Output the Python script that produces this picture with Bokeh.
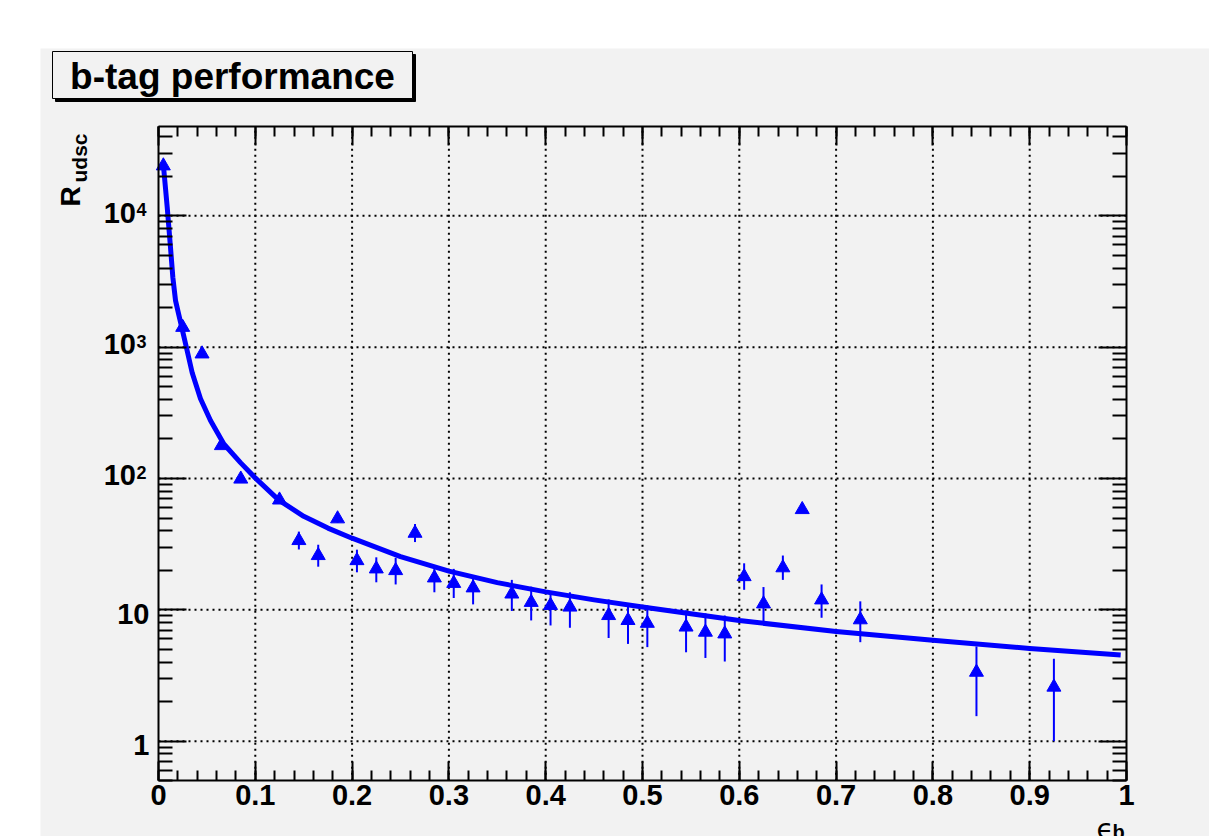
import numpy as np
from bokeh.plotting import figure
from bokeh.models import (LogAxis, LinearAxis, FixedTicker, Label, Range1d,
                          CustomLabelingPolicy, BoxAnnotation)
from bokeh.embed import file_html
from bokeh.resources import INLINE

# ---- data ----
eff_b = [0.005, 0.025, 0.045, 0.065, 0.085, 0.125, 0.145, 0.165, 0.185, 0.205,
         0.225, 0.245, 0.265, 0.285, 0.305, 0.325, 0.365, 0.385, 0.405, 0.425,
         0.465, 0.485, 0.505, 0.545, 0.565, 0.585, 0.605, 0.625, 0.645, 0.665,
         0.685, 0.725, 0.845, 0.925]
r_udsc = [24000, 1415, 888, 178, 99, 68.6, 33.7, 25.9, 49.3, 23.7,
          20.5, 19.9, 38.3, 17.5, 15.9, 14.7, 13.2, 11.4, 10.8, 10.5,
          9.05, 8.3, 7.9, 7.4, 6.76, 6.56, 17.9, 11.1, 20.9, 58.0,
          11.9, 8.4, 3.35, 2.58]
r_hi = [24600, 1460, 915, 183, 102, 70.5, 39.4, 31.3, 52.5, 28.7,
        25.1, 24.9, 45.0, 20.7, 20.5, 18.3, 16.9, 15.0, 13.9, 13.6,
        12.0, 11.1, 10.8, 9.9, 9.4, 9.05, 22.6, 14.9, 25.9, 60.5,
        15.6, 11.6, 5.26, 4.24]
r_lo = [23400, 1370, 860, 173, 96, 66.5, 28.8, 21.3, 46.0, 19.3,
        16.2, 15.6, 32.8, 13.6, 12.3, 11.0, 9.8, 8.3, 7.6, 7.3,
        6.1, 5.5, 5.2, 4.75, 4.3, 4.04, 14.2, 8.0, 16.9, 55.5,
        8.7, 5.67, 1.55, 1.0]

fit_x = [0.0048, 0.009, 0.0124, 0.0148, 0.0176, 0.021, 0.0245, 0.0289, 0.0348,
         0.0434, 0.0537, 0.0675, 0.0847, 0.1002, 0.1243, 0.15, 0.175, 0.2,
         0.25, 0.3, 0.35, 0.4, 0.45, 0.5, 0.6, 0.7, 0.8, 0.9, 0.994]
fit_y = [25500, 11600, 5740, 3400, 2260, 1760, 1365, 989, 638,
         404, 276, 183, 132, 100.5, 68.5, 51.5, 41.9, 35.1,
         25.4, 19.7, 16.1, 13.7, 11.9, 10.5, 8.28, 6.85, 5.86, 5.08, 4.52]

x_ticks = [0, 0.1, 0.2, 0.3, 0.4, 0.5, 0.6, 0.7, 0.8, 0.9, 1.0]
x_tick_labels = ["0", "0.1", "0.2", "0.3", "0.4", "0.5", "0.6", "0.7", "0.8", "0.9", "1"]
y_ticks = [1, 10, 100, 1000, 10000]
y_tick_base = ["1", "10", "10", "10", "10"]
y_tick_exp = ["", "", "2", "3", "4"]
x_lim = (0.0, 1.0)
y_lim = (0.5, 47500.0)

title_text = "b-tag performance"
ylabel_main = "R"
ylabel_sub = "udsc"
xlabel_main = "\u03f5"
xlabel_sub = "b"

# ---- layout (pixels in the 1209x836 window) ----
CANVAS_L, CANVAS_T = 40, 48
CW, CH = 1169, 788
BOX_L, BOX_R = 158.0, 1126.0        # pixel x of x_lim
BOX_T, BOX_B = 126.4, 780.2         # pixel y of y_lim
TBOX = (52, 412, 51, 98)            # title box: left, right, top, bottom
SHADOW = 3

BG = "#f2f2f2"
BLUE = "#0000ff"
FONT = "Liberation Sans"
TICK_FS = "29px"

# ranges chosen so that the whole canvas is the frame and the data box sits inside
xs = (BOX_R - BOX_L) / (x_lim[1] - x_lim[0])
x0 = x_lim[0] - (BOX_L - CANVAS_L) / xs
x1 = x_lim[1] + (CANVAS_L + CW - BOX_R) / xs
ly0, ly1 = np.log10(y_lim[0]), np.log10(y_lim[1])
ys = (BOX_B - BOX_T) / (ly1 - ly0)
y0 = 10 ** (ly0 - (CANVAS_T + CH - BOX_B) / ys)
y1 = 10 ** (ly1 + (BOX_T - CANVAS_T) / ys)

x_minor = [round(i * 0.02, 2) for i in range(51)]
y_minor = [m * 10.0 ** d for d in range(-1, 5) for m in range(2, 10)]
y_minor = [v for v in y_minor if y_lim[0] <= v <= y_lim[1]]

p = figure(width=CW, height=CH,
           x_range=Range1d(x0, x1), y_range=Range1d(y0, y1),
           y_axis_type="log", output_backend="svg", toolbar_location=None,
           min_border=0, x_axis_location=None, y_axis_location=None)
p.margin = (CANVAS_T, 0, 0, CANVAS_L)
p.background_fill_color = BG
p.border_fill_color = BG
p.outline_line_color = None
p.xgrid.visible = False
p.ygrid.visible = False

xt = FixedTicker(ticks=x_ticks, minor_ticks=x_minor)
yt = FixedTicker(ticks=y_ticks, minor_ticks=y_minor)

NO_LABELS = """
const ids = [...indices];
for (const i of ids) { indices.unset(i); }
return indices;
"""


def make_axis(cls, ticker, tmaj, tmin, loc, bounds, labels):
    ax = cls(ticker=ticker, fixed_location=loc, bounds=bounds)
    ax.axis_line_color = "black"
    ax.axis_line_width = 2
    ax.major_tick_in = tmaj
    ax.major_tick_out = 0
    ax.minor_tick_in = tmin
    ax.minor_tick_out = 0
    ax.major_tick_line_width = 2
    ax.minor_tick_line_width = 2
    ax.major_tick_line_color = "black"
    ax.minor_tick_line_color = "black"
    ax.major_label_text_font = FONT
    ax.major_label_text_font_style = "bold"
    ax.major_label_text_font_size = TICK_FS
    ax.major_label_text_color = "black"
    ax.axis_label = None
    if not labels:
        ax.major_label_policy = CustomLabelingPolicy(code=NO_LABELS)
    return ax


# ---- grid (dotted, at the major ticks) ----
gx = x_ticks[1:-1]
p.segment(x0=gx, y0=[y_lim[0]] * len(gx), x1=gx, y1=[y_lim[1]] * len(gx),
          line_color="black", line_width=2, line_dash="2 4")
p.segment(x0=[x_lim[0]] * len(y_ticks), y0=y_ticks, x1=[x_lim[1]] * len(y_ticks),
          y1=y_ticks, line_color="black", line_width=2, line_dash="2 4")

# ---- data marks ----
p.segment(x0=eff_b, y0=r_lo, x1=eff_b, y1=r_hi, line_color=BLUE, line_width=2)
p.scatter(eff_b, r_udsc, marker="triangle", size=14,
          fill_color=BLUE, line_color=BLUE, line_width=1)
p.line(fit_x, fit_y, line_color=BLUE, line_width=5, line_join="round")

# ---- axes forming the box ----
bottom = make_axis(LinearAxis, xt, 19, 10, y_lim[0], x_lim, True)
bottom.major_label_overrides = dict(zip(x_ticks, x_tick_labels))
bottom.major_label_standoff = 4
p.add_layout(bottom, "below")
p.add_layout(make_axis(LinearAxis, xt, 19, 10, y_lim[1], x_lim, False), "above")
p.add_layout(make_axis(LogAxis, yt, 28, 14, x_lim[0], y_lim, False), "left")
p.add_layout(make_axis(LogAxis, yt, 28, 14, x_lim[1], y_lim, False), "right")


# ---- texts (screen units from the canvas bottom-left) ----
def sx(ax):
    return ax - CANVAS_L


def sy(ay):
    return CANVAS_T + CH - ay


for val, base, exp in zip(y_ticks, y_tick_base, y_tick_exp):
    if exp:
        p.add_layout(Label(x=sx(135.5), y=val, x_units="screen", y_units="data",
                           text=base, text_font=FONT, text_font_style="bold",
                           text_font_size=TICK_FS, text_align="right",
                           text_baseline="middle", y_offset=3, text_color="black"))
        p.add_layout(Label(x=sx(136), y=val, x_units="screen", y_units="data",
                           text=exp, text_font=FONT, text_font_style="bold",
                           text_font_size="18px", text_align="left",
                           text_baseline="alphabetic", y_offset=6,
                           text_color="black"))
    else:
        p.add_layout(Label(x=sx(149), y=val, x_units="screen", y_units="data",
                           text=base, text_font=FONT, text_font_style="bold",
                           text_font_size=TICK_FS, text_align="right",
                           text_baseline="middle", y_offset=-4, text_color="black"))

# title box with drop shadow
l, r, t, b = TBOX
p.add_layout(BoxAnnotation(left=sx(l + SHADOW), right=sx(r + SHADOW),
                           top=sy(t + SHADOW), bottom=sy(b + SHADOW),
                           left_units="screen", right_units="screen",
                           top_units="screen", bottom_units="screen",
                           fill_color="black", fill_alpha=1.0,
                           line_color="black", line_alpha=1.0, line_width=1,
                           line_dash="solid"))
p.add_layout(BoxAnnotation(left=sx(l), right=sx(r), top=sy(t), bottom=sy(b),
                           left_units="screen", right_units="screen",
                           top_units="screen", bottom_units="screen",
                           fill_color=BG, fill_alpha=1.0,
                           line_color="black", line_alpha=1.0, line_width=1,
                           line_dash="solid"))
p.add_layout(Label(x=sx((l + r) / 2), y=sy((t + b) / 2 + 1), x_units="screen",
                   y_units="screen", text=title_text, text_font=FONT,
                   text_font_style="bold", text_font_size="37px",
                   text_align="center", text_baseline="middle", text_color="black"))

p.add_layout(Label(x=sx(70), y=sy(206), x_units="screen", y_units="screen",
                   text=ylabel_main, angle=np.pi / 2, text_font=FONT,
                   text_font_style="bold", text_font_size="28px",
                   text_align="left", text_baseline="alphabetic", text_color="black"))
p.add_layout(Label(x=sx(78.5), y=sy(182), x_units="screen", y_units="screen",
                   text=ylabel_sub, angle=np.pi / 2, text_font=FONT,
                   text_font_style="bold", text_font_size="21px",
                   text_align="left", text_baseline="alphabetic", text_color="black"))
p.add_layout(Label(x=sx(1096), y=sy(829), x_units="screen", y_units="screen",
                   text=xlabel_main, text_font="DejaVu Sans",
                   text_font_size="28px", text_align="left",
                   text_baseline="alphabetic", text_color="black"))
p.add_layout(Label(x=sx(1112), y=sy(820), x_units="screen", y_units="screen",
                   text=xlabel_sub, text_font=FONT, text_font_style="bold",
                   text_font_size="20px", text_align="left", text_baseline="top",
                   text_color="black"))

open("out.html", "w").write(file_html(p, INLINE))
